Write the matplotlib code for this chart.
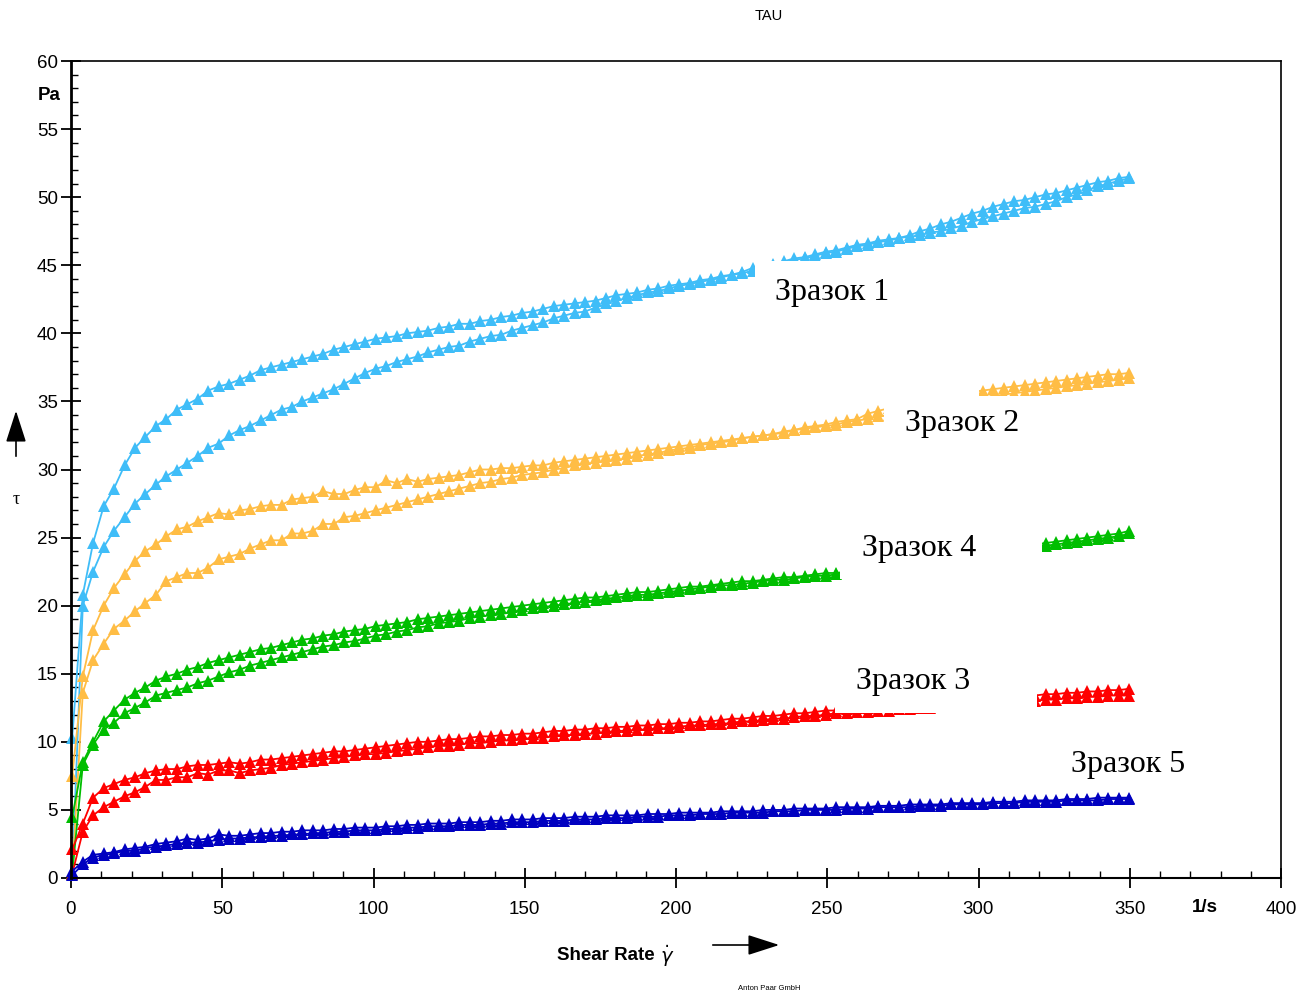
import matplotlib
matplotlib.use("Agg")
import matplotlib.pyplot as plt
from matplotlib.patches import Rectangle, FancyArrowPatch
from matplotlib.ticker import MultipleLocator

# ---------------- data ----------------
SHEAR_RATE = [0.4, 3.9, 7.3, 10.8, 14.2, 17.7, 21.2, 24.6, 28.1, 31.5,
              35.0, 38.5, 41.9, 45.4, 48.8, 52.3, 55.8, 59.2, 62.7, 66.1,
              69.6, 73.1, 76.5, 80.0, 83.4, 86.9, 90.4, 93.8, 97.3, 100.7,
              104.2, 107.7, 111.1, 114.6, 118.0, 121.5, 125.0, 128.4, 131.9, 135.3,
              138.8, 142.3, 145.7, 149.2, 152.6, 156.1, 159.6, 163.0, 166.5, 169.9,
              173.4, 176.9, 180.3, 183.8, 187.2, 190.7, 194.2, 197.6, 201.1, 204.5,
              208.0, 211.5, 214.9, 218.4, 221.8, 225.3, 228.8, 232.2, 235.7, 239.1,
              242.6, 246.1, 249.5, 253.0, 256.4, 259.9, 263.4, 266.8, 270.3, 273.7,
              277.2, 280.7, 284.1, 287.6, 291.0, 294.5, 298.0, 301.4, 304.9, 308.3,
              311.8, 315.3, 318.7, 322.2, 325.6, 329.1, 332.6, 336.0, 339.5, 342.9,
              346.4, 349.9]

S1_UP = [10.3, 20.8, 24.6, 27.3, 28.6, 30.3, 31.6, 32.4, 33.2, 33.7,
         34.4, 34.8, 35.2, 35.8, 36.1, 36.3, 36.6, 36.9, 37.3, 37.5,
         37.7, 37.9, 38.1, 38.3, 38.5, 38.8, 39.0, 39.2, 39.4, 39.6,
         39.7, 39.8, 40.0, 40.1, 40.2, 40.4, 40.5, 40.7, 40.7, 40.9,
         41.0, 41.2, 41.3, 41.5, 41.6, 41.8, 42.0, 42.1, 42.2, 42.3,
         42.4, 42.6, 42.8, 42.9, 43.0, 43.2, 43.3, 43.5, 43.6, 43.7,
         43.9, 44.0, 44.2, 44.3, 44.5, 44.8, 44.9, 45.1, 45.3, 45.5,
         45.6, 45.8, 46.0, 46.1, 46.3, 46.5, 46.6, 46.8, 46.9, 47.0,
         47.2, 47.5, 47.7, 48.0, 48.2, 48.5, 48.8, 49.0, 49.3, 49.5,
         49.7, 49.8, 50.0, 50.2, 50.3, 50.5, 50.7, 50.9, 51.1, 51.2,
         51.4, 51.5]
S1_DOWN = [0.3, 20.0, 22.5, 24.3, 25.5, 26.5, 27.5, 28.2, 28.9, 29.5,
           30.0, 30.5, 31.0, 31.6, 31.9, 32.5, 32.9, 33.2, 33.6, 34.0,
           34.4, 34.6, 35.0, 35.3, 35.6, 35.9, 36.3, 36.7, 37.1, 37.4,
           37.6, 37.9, 38.1, 38.3, 38.6, 38.8, 39.0, 39.1, 39.4, 39.6,
           39.8, 39.9, 40.2, 40.4, 40.6, 40.8, 41.1, 41.3, 41.5, 41.6,
           41.9, 42.2, 42.4, 42.6, 42.8, 43.0, 43.1, 43.3, 43.5, 43.6,
           43.8, 43.9, 44.1, 44.3, 44.4, 44.6, 44.8, 45.0, 45.2, 45.4,
           45.5, 45.7, 45.9, 46.0, 46.2, 46.4, 46.5, 46.7, 46.8, 47.0,
           47.1, 47.2, 47.4, 47.5, 47.7, 47.9, 48.2, 48.4, 48.6, 48.8,
           49.0, 49.2, 49.3, 49.5, 49.7, 50.0, 50.2, 50.5, 50.8, 51.0,
           51.2, 51.4]

S2_UP = [7.5, 14.8, 18.2, 20.0, 21.3, 22.3, 23.3, 24.0, 24.5, 25.1,
         25.6, 25.8, 26.2, 26.5, 26.8, 26.7, 27.0, 27.1, 27.3, 27.4,
         27.4, 27.8, 27.9, 28.0, 28.4, 28.2, 28.2, 28.5, 28.7, 28.7,
         29.2, 29.0, 29.3, 29.1, 29.3, 29.4, 29.5, 29.6, 29.8, 30.0,
         30.0, 30.1, 30.1, 30.2, 30.3, 30.3, 30.5, 30.6, 30.7, 30.8,
         30.9, 31.0, 31.1, 31.2, 31.3, 31.4, 31.5, 31.6, 31.7, 31.8,
         31.9, 32.0, 32.1, 32.2, 32.3, 32.4, 32.5, 32.6, 32.8, 32.9,
         33.1, 33.2, 33.3, 33.5, 33.6, 33.7, 34.1, 34.3, 34.5, 34.6,
         34.8, 34.9, 35.1, 35.2, 35.4, 35.5, 35.7, 35.8, 35.9, 36.0,
         36.1, 36.2, 36.3, 36.4, 36.5, 36.6, 36.7, 36.8, 36.9, 37.0,
         37.0, 37.1]
S2_DOWN = [0.3, 13.6, 16.0, 17.2, 18.3, 18.9, 19.6, 20.2, 20.8, 21.8,
           22.1, 22.4, 22.4, 22.8, 23.4, 23.6, 23.8, 24.2, 24.5, 24.8,
           24.8, 25.3, 25.3, 25.5, 26.0, 26.0, 26.5, 26.6, 26.8, 27.0,
           27.2, 27.4, 27.6, 27.8, 28.0, 28.2, 28.4, 28.6, 28.8, 29.0,
           29.1, 29.3, 29.4, 29.6, 29.7, 29.8, 30.0, 30.1, 30.3, 30.4,
           30.5, 30.6, 30.7, 30.8, 31.0, 31.1, 31.2, 31.4, 31.5, 31.6,
           31.8, 31.9, 32.0, 32.1, 32.3, 32.4, 32.5, 32.6, 32.7, 32.9,
           33.0, 33.1, 33.2, 33.3, 33.5, 33.6, 33.7, 33.9, 34.0, 34.1,
           34.3, 34.4, 34.6, 34.7, 34.9, 35.0, 35.2, 35.3, 35.4, 35.5,
           35.6, 35.7, 35.8, 35.9, 36.0, 36.1, 36.2, 36.3, 36.4, 36.5,
           36.6, 36.7]

S4_UP = [4.5, 8.5, 10.0, 11.5, 12.3, 13.1, 13.6, 14.0, 14.5, 14.8,
         15.0, 15.3, 15.5, 15.8, 16.0, 16.2, 16.4, 16.6, 16.8, 16.9,
         17.1, 17.3, 17.5, 17.6, 17.8, 17.9, 18.1, 18.2, 18.3, 18.5,
         18.6, 18.7, 18.8, 19.0, 19.1, 19.2, 19.3, 19.4, 19.5, 19.6,
         19.7, 19.8, 19.9, 20.0, 20.1, 20.2, 20.3, 20.4, 20.5, 20.6,
         20.6, 20.7, 20.8, 20.9, 21.0, 21.0, 21.1, 21.2, 21.3, 21.4,
         21.4, 21.5, 21.6, 21.7, 21.8, 21.8, 21.9, 22.0, 22.1, 22.1,
         22.2, 22.3, 22.4, 22.4, 22.5, 22.6, 22.7, 22.8, 22.9, 23.0,
         23.1, 23.2, 23.3, 23.5, 23.6, 23.7, 23.8, 23.9, 24.0, 24.1,
         24.2, 24.3, 24.5, 24.6, 24.7, 24.8, 24.9, 25.0, 25.1, 25.2,
         25.3, 25.5]
S4_DOWN = [0.3, 8.3, 9.8, 10.9, 11.4, 12.1, 12.5, 12.9, 13.4, 13.6,
           13.8, 14.0, 14.3, 14.5, 14.8, 15.1, 15.3, 15.6, 15.8, 16.0,
           16.2, 16.4, 16.6, 16.8, 17.0, 17.1, 17.3, 17.4, 17.6, 17.8,
           17.9, 18.1, 18.2, 18.4, 18.5, 18.7, 18.8, 18.9, 19.1, 19.2,
           19.3, 19.4, 19.5, 19.7, 19.8, 19.9, 20.0, 20.1, 20.2, 20.3,
           20.4, 20.5, 20.6, 20.7, 20.8, 20.8, 20.9, 21.0, 21.1, 21.2,
           21.3, 21.4, 21.5, 21.5, 21.6, 21.7, 21.8, 21.9, 21.9, 22.0,
           22.1, 22.2, 22.2, 22.3, 22.4, 22.5, 22.6, 22.7, 22.8, 22.9,
           23.0, 23.1, 23.2, 23.3, 23.4, 23.5, 23.6, 23.7, 23.8, 23.9,
           24.0, 24.2, 24.3, 24.4, 24.5, 24.6, 24.7, 24.8, 24.9, 25.0,
           25.1, 25.3]

S3_UP = [2.1, 4.0, 5.9, 6.6, 6.9, 7.2, 7.4, 7.7, 7.9, 8.0,
         8.0, 8.2, 8.3, 8.3, 8.4, 8.5, 8.4, 8.5, 8.7, 8.7,
         8.8, 8.9, 9.0, 9.1, 9.2, 9.3, 9.3, 9.4, 9.5, 9.6,
         9.7, 9.8, 9.9, 10.0, 10.0, 10.1, 10.2, 10.2, 10.3, 10.4,
         10.4, 10.5, 10.5, 10.6, 10.6, 10.7, 10.8, 10.8, 10.9, 10.9,
         11.0, 11.0, 11.1, 11.1, 11.2, 11.2, 11.3, 11.3, 11.4, 11.4,
         11.5, 11.5, 11.6, 11.7, 11.7, 11.8, 11.9, 11.9, 12.0, 12.1,
         12.1, 12.2, 12.3, 12.3, 12.4, 12.5, 12.5, 12.6, 12.6, 12.7,
         12.7, 12.8, 12.8, 12.9, 12.9, 13.0, 13.0, 13.1, 13.1, 13.2,
         13.2, 13.3, 13.4, 13.5, 13.5, 13.6, 13.6, 13.7, 13.7, 13.8,
         13.8, 13.9]
S3_DOWN = [0.3, 3.4, 4.6, 5.2, 5.6, 6.0, 6.3, 6.7, 7.2, 7.2,
           7.4, 7.4, 7.7, 7.6, 7.9, 7.9, 7.7, 7.9, 8.0, 8.1,
           8.3, 8.4, 8.5, 8.6, 8.7, 8.8, 8.9, 9.0, 9.1, 9.1,
           9.2, 9.3, 9.4, 9.5, 9.6, 9.7, 9.7, 9.8, 9.9, 9.9,
           10.0, 10.1, 10.1, 10.2, 10.3, 10.3, 10.4, 10.5, 10.5, 10.6,
           10.6, 10.7, 10.8, 10.8, 10.9, 10.9, 11.0, 11.0, 11.1, 11.2,
           11.2, 11.3, 11.3, 11.4, 11.5, 11.5, 11.6, 11.7, 11.7, 11.8,
           11.9, 11.9, 12.0, 12.1, 12.1, 12.2, 12.2, 12.3, 12.3, 12.4,
           12.4, 12.5, 12.5, 12.6, 12.6, 12.7, 12.7, 12.8, 12.8, 12.9,
           12.9, 13.0, 13.0, 13.1, 13.1, 13.2, 13.2, 13.3, 13.3, 13.4,
           13.4, 13.4]

S5_UP = [0.5, 1.2, 1.7, 1.8, 1.9, 2.1, 2.2, 2.3, 2.5, 2.6,
         2.7, 2.9, 2.8, 2.9, 3.2, 3.1, 3.1, 3.2, 3.3, 3.3,
         3.4, 3.4, 3.5, 3.5, 3.5, 3.6, 3.6, 3.7, 3.7, 3.7,
         3.8, 3.8, 3.9, 3.9, 4.0, 4.0, 4.0, 4.1, 4.1, 4.1,
         4.2, 4.2, 4.3, 4.3, 4.3, 4.4, 4.4, 4.4, 4.5, 4.5,
         4.5, 4.6, 4.6, 4.6, 4.6, 4.7, 4.7, 4.7, 4.8, 4.8,
         4.8, 4.8, 4.9, 4.9, 4.9, 4.9, 5.0, 5.0, 5.0, 5.1,
         5.1, 5.1, 5.1, 5.2, 5.2, 5.2, 5.2, 5.3, 5.3, 5.3,
         5.4, 5.4, 5.4, 5.4, 5.5, 5.5, 5.5, 5.5, 5.6, 5.6,
         5.6, 5.7, 5.7, 5.7, 5.7, 5.8, 5.8, 5.8, 5.9, 5.9,
         5.9, 5.9]
S5_DOWN = [0.2, 1.0, 1.5, 1.7, 1.8, 2.0, 2.0, 2.2, 2.3, 2.4,
           2.5, 2.6, 2.6, 2.7, 2.8, 2.9, 2.9, 3.0, 3.0, 3.1,
           3.1, 3.2, 3.2, 3.3, 3.3, 3.4, 3.4, 3.5, 3.5, 3.5,
           3.6, 3.6, 3.7, 3.7, 3.8, 3.8, 3.8, 3.9, 3.9, 3.9,
           4.0, 4.0, 4.1, 4.1, 4.1, 4.2, 4.2, 4.2, 4.3, 4.3,
           4.3, 4.4, 4.4, 4.4, 4.5, 4.5, 4.5, 4.6, 4.6, 4.6,
           4.7, 4.7, 4.7, 4.8, 4.8, 4.8, 4.8, 4.9, 4.9, 4.9,
           5.0, 5.0, 5.0, 5.0, 5.1, 5.1, 5.1, 5.2, 5.2, 5.2,
           5.2, 5.3, 5.3, 5.3, 5.4, 5.4, 5.4, 5.4, 5.5, 5.5,
           5.5, 5.6, 5.6, 5.6, 5.6, 5.7, 5.7, 5.7, 5.7, 5.8,
           5.8, 5.8]

SAMPLE_NAMES = ["Зразок 1", "Зразок 2", "Зразок 4", "Зразок 3", "Зразок 5"]
SAMPLE_COLORS = ["#3FBDF8", "#FFBD45", "#00BE00", "#FF0000", "#0000C0"]
SERIES = [(S1_UP, S1_DOWN), (S2_UP, S2_DOWN), (S4_UP, S4_DOWN),
          (S3_UP, S3_DOWN), (S5_UP, S5_DOWN)]
X_TICKS = [0, 50, 100, 150, 200, 250, 300, 350, 400]
Y_TICKS = [0, 5, 10, 15, 20, 25, 30, 35, 40, 45, 50, 55, 60]

# label placement (centre, data coords) and white masks (x0, y0, x1, y1)
LABEL_POS = [(251.5, 43.0), (294.5, 33.4), (280.5, 24.2), (278.5, 14.4), (349.5, 8.3)]
MASKS = [(226.1, 40.8, 276.0, 45.3), (268.8, 31.3, 300.0, 36.6),
         (300.0, 31.3, 322.0, 35.4),
         (254.2, 21.95, 321.0, 25.9), (252.6, 12.15, 319.3, 16.3)]

W, H = 1313, 994
fig = plt.figure(figsize=(W / 100, H / 100), dpi=100)
ax = fig.add_axes([71 / W, (H - 878) / H, 1210 / W, 817 / H])

for (up, down), col in zip(SERIES, SAMPLE_COLORS):
    for ys in (up, down):
        ax.plot(SHEAR_RATE, ys, color=col, lw=1.3, marker="^", ms=8,
                markeredgewidth=0, clip_on=False, zorder=2)

for x0, y0, x1, y1 in MASKS:
    ax.add_patch(Rectangle((x0, y0), x1 - x0, y1 - y0, facecolor="white",
                           edgecolor="none", zorder=3))

for name, (lx, ly) in zip(SAMPLE_NAMES, LABEL_POS):
    ax.text(lx, ly, name, family="Liberation Serif", fontsize=23,
            ha="center", va="center", zorder=4)

ax.set_xlim(0, 400)
ax.set_ylim(0, 60)
ax.set_xticks(X_TICKS)
ax.set_yticks(Y_TICKS)
ax.xaxis.set_minor_locator(MultipleLocator(10))
ax.yaxis.set_minor_locator(MultipleLocator(1))
ax.set_xticklabels([str(t) for t in X_TICKS])
ax.set_yticklabels([str(t) for t in Y_TICKS])

for lab in ax.get_xticklabels() + ax.get_yticklabels():
    lab.set_family("Liberation Sans")
    lab.set_fontsize(13.5)

ax.tick_params(which="major", direction="inout", length=15, width=1.3, color="black")
ax.tick_params(which="minor", direction="in", length=5, width=1.0, color="black")
ax.tick_params(axis="x", which="major", pad=9)
ax.tick_params(axis="y", which="major", pad=2)
ax.tick_params(top=False, right=False, which="both")

ax.spines["left"].set_linewidth(2.0)
ax.spines["bottom"].set_linewidth(1.5)
ax.spines["top"].set_linewidth(1.2)
ax.spines["right"].set_linewidth(1.2)

# unit labels
fig.text(49 / W, 1 - 95 / H, "Pa", family="Liberation Sans", fontweight="bold",
         fontsize=13.5, ha="center", va="center")
fig.text(1205 / W, 1 - 908 / H, "1/s", family="Liberation Sans", fontweight="bold",
         fontsize=13.5, ha="center", va="center")

# axis titles
fig.text(606 / W, 1 - 955 / H, "Shear Rate", family="Liberation Sans",
         fontweight="bold", fontsize=13.5, ha="center", va="center")
fig.text(667 / W, 1 - 956 / H, r"$\dot{\gamma}$", fontsize=14,
         ha="center", va="center")
fig.text(16 / W, 1 - 500 / H, "τ", family="Liberation Serif", fontsize=13,
         ha="center", va="center")

# arrows
fig.add_artist(FancyArrowPatch(
    (710 / W, 1 - 945 / H), (782 / W, 1 - 945 / H), transform=fig.transFigure,
    arrowstyle="-|>,head_length=1.4,head_width=0.45", mutation_scale=14,
    color="black", lw=1.2))
fig.add_artist(FancyArrowPatch(
    (16 / W, 1 - 459 / H), (16 / W, 1 - 408 / H), transform=fig.transFigure,
    arrowstyle="-|>,head_length=1.4,head_width=0.45", mutation_scale=14,
    color="black", lw=1.2))

fig.text(769 / W, 1 - 16 / H, "TAU", family="Liberation Sans", fontsize=10.5,
         ha="center", va="center")
fig.text(769 / W, 1 - 988 / H, "Anton Paar GmbH", family="Liberation Sans",
         fontsize=5.5, ha="center", va="center")

fig.savefig("out.png", dpi=100, facecolor="white")
